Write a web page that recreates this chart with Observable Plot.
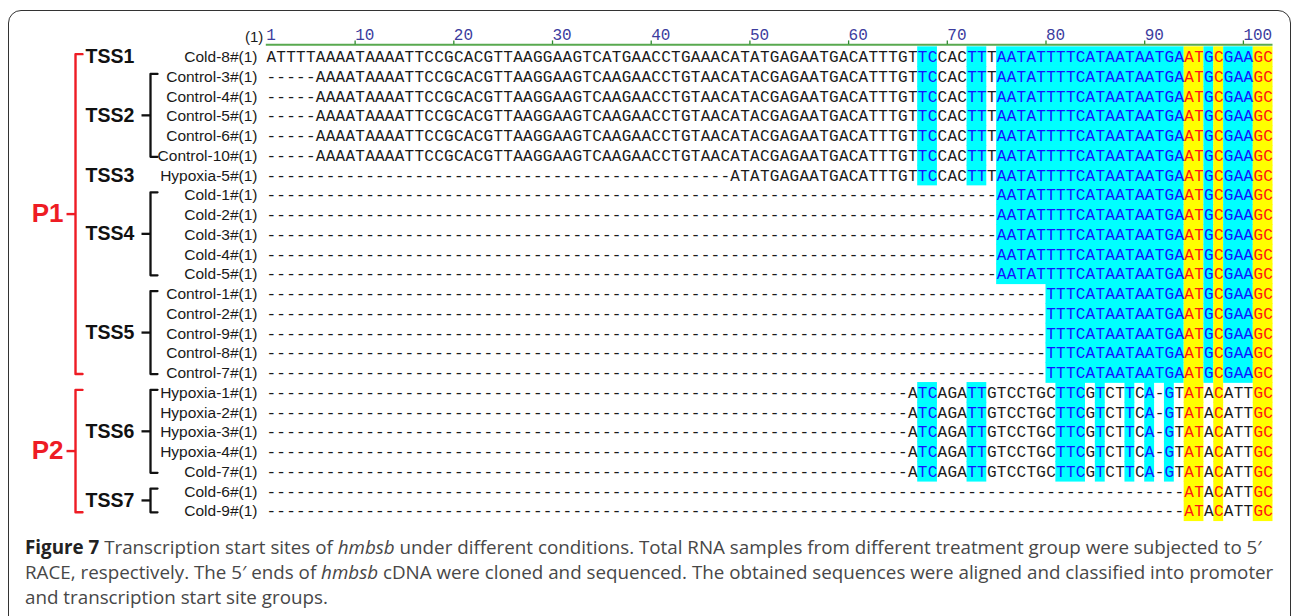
<!DOCTYPE html>
<html>
<head>
<meta charset="utf-8">
<script src="https://cdn.jsdelivr.net/npm/d3@7"></script>
<script src="https://cdn.jsdelivr.net/npm/@observablehq/plot@0.6"></script>
<style>
  html, body { margin: 0; padding: 0; background: #fff; width: 1292px; height: 616px; overflow: hidden; }
  #frame { position: absolute; left: 8px; top: 10px; width: 1283px; height: 660px; border: 1.4px solid #333; border-radius: 13px; box-sizing: border-box; z-index: 2; pointer-events: none; }
  #chart { position: absolute; left: 0; top: 0; z-index: 1; line-height: 0; }
  #chart svg { background: transparent !important; display: block; }
  #caption { position: absolute; left: 25px; top: 535px; font-family: "Open Sans", sans-serif; font-size: 17px; line-height: 25px; color: #474747; white-space: nowrap; z-index: 1; }
  #caption b { color: #222; }
  #caption span { display: block; }
</style>
</head>
<body>
<div id="chart"></div>
<div id="caption">
  <span id="cap1"><b>Figure 7</b> Transcription start sites of <i>hmbsb</i> under different conditions. Total RNA samples from different treatment group were subjected to 5′</span>
  <span>RACE, respectively. The 5′ ends of <i>hmbsb</i> cDNA were cloned and sequenced. The obtained sequences were aligned and classified into promoter</span>
  <span>and transcription start site groups.</span>
</div>
<div id="frame"></div>
<script>
// ---------------- data ----------------
const nCols = 102;
const rulerLabels = [1, 10, 20, 30, 40, 50, 60, 70, 80, 90, 100];

const rowNames = [
  "Cold-8#(1)",
  "Control-3#(1)", "Control-4#(1)", "Control-5#(1)", "Control-6#(1)", "Control-10#(1)",
  "Hypoxia-5#(1)",
  "Cold-1#(1)", "Cold-2#(1)", "Cold-3#(1)", "Cold-4#(1)", "Cold-5#(1)",
  "Control-1#(1)", "Control-2#(1)", "Control-9#(1)", "Control-8#(1)", "Control-7#(1)",
  "Hypoxia-1#(1)", "Hypoxia-2#(1)", "Hypoxia-3#(1)", "Hypoxia-4#(1)", "Cold-7#(1)",
  "Cold-6#(1)", "Cold-9#(1)"
];

const tssNames = ["TSS1", "TSS2", "TSS3", "TSS4", "TSS5", "TSS6", "TSS7"];
const tssFirstRow = [0, 1, 6, 7, 12, 17, 22];
const tssLastRow  = [0, 5, 6, 11, 16, 21, 23];
// residues of each TSS group, aligned to the right end (column 102); gaps fill the left
const tssResidues = [
  "ATTTTAAAATAAAATTCCGCACGTTAA" + "GGAAGTCATGAACCTGAAACATATGAGAATGACATTTGT" + "TCCACTTTAATATTTTCATAATAATGAATGCGAAGC",
  "AAAATAAAATTCCGCACGTTAA" + "GGAAGTCAAGAACCTGTAACATACGAGAATGACATTTGT" + "TCCACTTTAATATTTTCATAATAATGAATGCGAAGC",
  "ATATGAGAATGACATTTGT" + "TCCACTTTAATATTTTCATAATAATGAATGCGAAGC",
  "AATATTTTCATAATAATGAATGCGAAGC",
  "TTTCATAATAATGAATGCGAAGC",
  "ATCAGATTGTCCTGCTTCGTCTTCA-GTATACATTGC",
  "ATACATTGC"
];

const promoterNames = ["P1", "P2"];
const promoterFirstRow = [0, 17];
const promoterLastRow  = [16, 23];
// shaded column runs [from, to, kind]: c = conserved (cyan/blue), y = identical (yellow/red)
const shadeRunsP1 = [[67,68,"c"],[72,73,"c"],[75,93,"c"],[94,95,"y"],[96,96,"c"],[97,97,"y"],[98,100,"c"],[101,102,"y"]];
const shadeRunsP2 = [[67,68,"c"],[72,73,"c"],[81,83,"c"],[85,85,"c"],[88,88,"c"],[90,90,"c"],[92,92,"c"],[94,95,"y"],[97,97,"y"],[101,102,"y"]];
const shadeRuns = [shadeRunsP1, shadeRunsP2];

// ---------------- derived tables ----------------
const rows = rowNames.map((name, r) => {
  const t = tssFirstRow.findIndex((f, k) => r >= f && r <= tssLastRow[k]);
  const p = promoterFirstRow.findIndex((f, k) => r >= f && r <= promoterLastRow[k]);
  const residues = tssResidues[t];
  return { name, r, t, p, seq: residues.padStart(nCols, "-"), start: nCols - residues.length + 1 };
});

const rects = [];
const cells = [];
for (const row of rows) {
  const runs = shadeRuns[row.p];
  for (const [a, b, kind] of runs) {
    const s = Math.max(a, row.start);
    if (s <= b) rects.push({ r: row.r, x1: s - 0.5, x2: b + 0.5, kind });
  }
  for (let c = 1; c <= nCols; c++) {
    const ch = row.seq[c - 1];
    let kind = "n";
    if (ch !== "-") {
      const run = runs.find(([a, b]) => c >= a && c <= b);
      if (run) kind = run[2];
    }
    cells.push({ r: row.r, c, ch, kind });
  }
}

const tssGroups = tssNames.map((name, k) => ({ name, first: tssFirstRow[k], last: tssLastRow[k] }));
const promoters = promoterNames.map((name, k) => ({ name, first: promoterFirstRow[k], last: promoterLastRow[k] }));

// ---------------- layout helpers ----------------
const X = px => (px - 265.8) / 9.87 + 0.5; // annotation pixel column -> x scale units
const bTop = g => g.first - 0.15;
const bBot = g => g.last + 0.05;
const bMid = g => (bTop(g) + bBot(g)) / 2;

function bracketPath(groups, xv, xh) {
  const pts = [];
  for (const g of groups) {
    if (g.last === g.first) continue;
    pts.push({ g: g.name, x: X(xh), y: bTop(g) });
    pts.push({ g: g.name, x: X(xv), y: bTop(g) });
    pts.push({ g: g.name, x: X(xv), y: bBot(g) });
    pts.push({ g: g.name, x: X(xh), y: bBot(g) });
  }
  return pts;
}

const CYAN = "#00ffff", YELLOW = "#ffff00", BLUE = "#1414ff", RED = "#ff1414", INK = "#1a1a1a";
const seqFont = "Liberation Mono, DejaVu Sans Mono, monospace";
const sansFont = "Liberation Sans, Arial, sans-serif";

const multiTss = tssGroups.filter(g => g.last > g.first);

const plot = Plot.plot({
  width: 1292,
  height: 526,
  margin: 0,
  style: { background: "transparent", overflow: "visible" },
  x: { type: "linear", domain: [0.5, nCols + 0.5], range: [265.8, 1272.5], axis: null },
  y: { type: "linear", domain: [0, rowNames.length - 1], range: [56.6, 510.8], axis: null },
  marks: [
    // shading
    Plot.rect(rects, {
      x1: "x1", x2: "x2", y1: d => d.r - 0.5, y2: d => d.r + 0.5,
      fill: d => d.kind === "c" ? CYAN : YELLOW, insetTop: -0.4, insetBottom: -0.4
    }),
    // ruler
    Plot.ruleY([-0.62], { x1: 0.5, x2: nCols + 0.5, stroke: "#58a94f", strokeWidth: 2 }),
    Plot.ruleX(rulerLabels.filter(v => v > 1), { x: d => d - 0.5, y1: -0.63, y2: -0.82, stroke: "#2f8a2f", strokeWidth: 1.3 }),
    Plot.text(rulerLabels, { x: d => d - 0.5, y: -1.11, text: d => String(d), textAnchor: "start", lineAnchor: "middle", fontFamily: seqFont, fontSize: 16, fill: "#3c3c9e" }),
    Plot.text(["(1)"], { x: 0.5, dx: -3, y: -1.0, text: d => d, textAnchor: "end", lineAnchor: "middle", fontFamily: sansFont, fontSize: 15, fill: INK }),
    // residues
    Plot.text(cells.filter(d => d.kind === "n"), { x: "c", y: "r", text: "ch", textAnchor: "middle", lineAnchor: "middle", fontFamily: seqFont, fontSize: 16, fill: INK }),
    Plot.text(cells.filter(d => d.kind === "c"), { x: "c", y: "r", text: "ch", textAnchor: "middle", lineAnchor: "middle", fontFamily: seqFont, fontSize: 16, fill: BLUE }),
    Plot.text(cells.filter(d => d.kind === "y"), { x: "c", y: "r", text: "ch", textAnchor: "middle", lineAnchor: "middle", fontFamily: seqFont, fontSize: 16, fill: RED }),
    // sequence names
    Plot.text(rows, { x: X(257), y: "r", text: "name", textAnchor: "end", lineAnchor: "middle", fontFamily: sansFont, fontSize: 15.5, fill: INK }),
    // TSS brackets
    Plot.line(bracketPath(tssGroups, 150, 157), { x: "x", y: "y", z: "g", stroke: "#111", strokeWidth: 2.3, strokeLinejoin: "round" }),
    Plot.link(multiTss, { x1: X(141), x2: X(150), y1: bMid, y2: bMid, stroke: "#111", strokeWidth: 2.3 }),
    Plot.text(tssGroups, { x: X(85), y: d => d.last > d.first ? bMid(d) : d.first, text: "name", textAnchor: "start", lineAnchor: "middle", fontFamily: sansFont, fontWeight: "bold", fontSize: 19.5, fill: "#111" }),
    // promoter brackets
    Plot.line(bracketPath(promoters, 75, 82), { x: "x", y: "y", z: "g", stroke: "#ee1c24", strokeWidth: 2.4, strokeLinejoin: "round" }),
    Plot.link(promoters, { x1: X(66), x2: X(75), y1: bMid, y2: bMid, stroke: "#ee1c24", strokeWidth: 2.4 }),
    Plot.text(promoters, { x: X(63), y: bMid, text: "name", textAnchor: "end", lineAnchor: "middle", fontFamily: sansFont, fontWeight: "bold", fontSize: 26, fill: "#ee1c24" })
  ]
});
document.getElementById("chart").appendChild(plot);

// fit caption font size so the first line spans the same width as in the figure
const cap = document.getElementById("caption");
const line1 = document.getElementById("cap1");
const range = document.createRange();
range.selectNodeContents(line1);
const w = range.getBoundingClientRect().width;
if (w > 0) cap.style.fontSize = (17 * 1237 / w).toFixed(2) + "px";
</script>
</body>
</html>
